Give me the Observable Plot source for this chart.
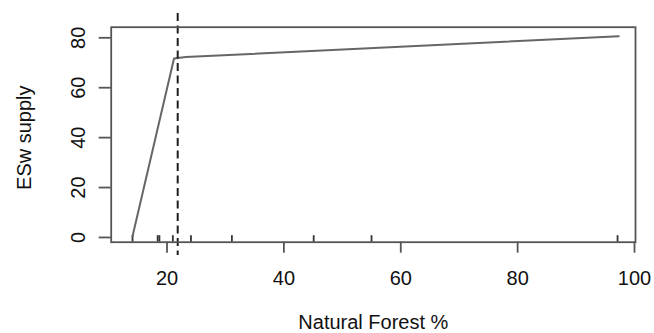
<!DOCTYPE html>
<html>
<head>
<meta charset="utf-8">
<script src="https://cdn.jsdelivr.net/npm/d3@7"></script>
<script src="https://cdn.jsdelivr.net/npm/@observablehq/plot@0.6"></script>
<style>
  html, body { margin: 0; padding: 0; background: #fff; }
</style>
</head>
<body>
<div id="chart"></div>
<script>
// Data
const forestPct = [14.1, 21.2, 23.2, 97.3];
const eswSupply = [0.5, 71.7, 72.3, 80.6];
const rugValues = [14.1, 18.4, 18.7, 21.0, 24.1, 31.1, 45.1, 55.0, 97.1];
const thresholdX = [21.83];
const xTicks = [20, 40, 60, 80, 100];
const yTicks = [0, 20, 40, 60, 80];
const xTitle = "Natural Forest %";
const yTitle = "ESw supply";

const lineData = forestPct.map((x, i) => ({x, y: eswSupply[i]}));

const W = 654, H = 333;
const mLeft = 110.7, mRight = 19, mTop = 26.7, mBottom = 91.3;
const innerH = H - mTop - mBottom;

const chart = Plot.plot({
  width: W,
  height: H,
  marginLeft: mLeft,
  marginRight: mRight,
  marginTop: mTop,
  marginBottom: mBottom,
  style: {fontFamily: "Liberation Sans, Arial, sans-serif", fontSize: "20px", color: "#111", background: "#fff"},
  x: {domain: [10.45, 100.17], label: null},
  y: {domain: [-1.9, 84.25], label: null},
  marks: [
    Plot.axisX({ticks: xTicks, tickSize: 11, tickPadding: 18, stroke: "#555", strokeWidth: 1.8, fill: "#111", label: null}),
    Plot.axisY({ticks: yTicks, tickSize: 12, tickPadding: 14, tickRotate: -90, textAnchor: "middle", lineAnchor: "bottom", stroke: "#555", strokeWidth: 1.8, fill: "#111", label: null}),
    Plot.ruleX(rugValues, {insetTop: innerH - 6.5, stroke: "#333", strokeWidth: 1.8}),
    Plot.line(lineData, {x: "x", y: "y", stroke: "#666", strokeWidth: 2}),
    Plot.ruleX(thresholdX, {insetTop: -13.7, insetBottom: -13.3, stroke: "#1e1e1e", strokeWidth: 2, strokeDasharray: "8,4.5"}),
    Plot.frame({stroke: "#555", strokeWidth: 1.8}),
    Plot.text([xTitle], {frameAnchor: "bottom", dy: 80, lineAnchor: "middle", textAnchor: "middle", fill: "#111"}),
    Plot.text([yTitle], {frameAnchor: "left", dx: -86.5, dy: 3, rotate: -90, lineAnchor: "middle", textAnchor: "middle", fill: "#111"})
  ]
});
document.getElementById("chart").appendChild(chart);
</script>
</body>
</html>
